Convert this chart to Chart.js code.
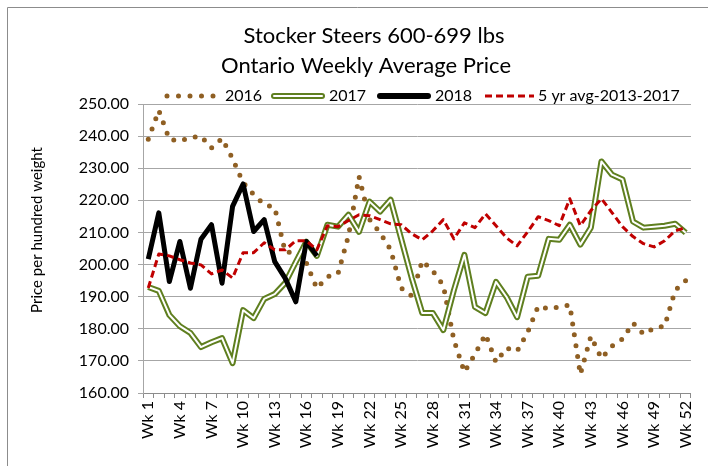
<!DOCTYPE html>
<html>
<head>
<meta charset="utf-8">
<script src="https://cdn.jsdelivr.net/npm/chart.js@4.4.1/dist/chart.umd.min.js"></script>
<style>
  html, body { margin: 0; padding: 0; background: #fff; }
</style>
</head>
<body>
<canvas id="chart" width="708" height="466"></canvas>
<script>
const WEEKS = [
  "Wk 1", "Wk 2", "Wk 3", "Wk 4", "Wk 5", "Wk 6", "Wk 7", "Wk 8", "Wk 9", "Wk 10",
  "Wk 11", "Wk 12", "Wk 13", "Wk 14", "Wk 15", "Wk 16", "Wk 17", "Wk 18", "Wk 19", "Wk 20",
  "Wk 21", "Wk 22", "Wk 23", "Wk 24", "Wk 25", "Wk 26", "Wk 27", "Wk 28", "Wk 29", "Wk 30",
  "Wk 31", "Wk 32", "Wk 33", "Wk 34", "Wk 35", "Wk 36", "Wk 37", "Wk 38", "Wk 39", "Wk 40",
  "Wk 41", "Wk 42", "Wk 43", "Wk 44", "Wk 45", "Wk 46", "Wk 47", "Wk 48", "Wk 49", "Wk 50",
  "Wk 51", "Wk 52"
];

// only every third week gets a label on the axis
const SHOWN_WEEKS = [
  "Wk 1", "Wk 4", "Wk 7", "Wk 10", "Wk 13", "Wk 16", "Wk 19", "Wk 22", "Wk 25",
  "Wk 28", "Wk 31", "Wk 34", "Wk 37", "Wk 40", "Wk 43", "Wk 46", "Wk 49", "Wk 52"
];

const PRICE_2016 = [
  239.0, 248.0, 239.0, 238.5, 239.5, 240.0, 236.3, 239.3, 233.0, 225.5,
  221.8, 218.7, 217.7, 203.9, 203.7, 200.5, 192.6, 196.2, 197.1, 209.0,
  227.4, 214.0, 209.9, 204.6, 192.7, 190.2, 201.2, 198.0, 193.5, 176.5,
  166.5, 172.1, 178.3, 169.6, 174.0, 173.0, 178.9, 187.0, 186.2, 186.8,
  187.4, 165.8, 177.7, 170.8, 174.6, 176.8, 181.8, 178.3, 180.2, 180.8,
  192.0, 195.0
];

const PRICE_2017 = [
  193.0, 191.8, 184.3, 180.8, 178.7, 174.3, 175.8, 177.1, 169.3, 185.8,
  183.3, 189.3, 190.8, 194.3, 200.8, 207.1, 202.7, 212.4, 211.8, 215.5,
  210.2, 219.6, 216.5, 220.2, 208.0, 195.8, 184.9, 184.9, 179.6, 192.0,
  203.0, 186.8, 184.9, 194.6, 189.9, 183.6, 196.2, 196.5, 208.0, 207.7,
  212.4, 206.2, 211.5, 232.1, 228.0, 226.5, 213.4, 211.5, 211.8, 212.1,
  212.7, 209.9
];

const PRICE_2018 = [
  201.7, 216.1, 194.7, 207.2, 192.6, 207.9, 212.4, 194.2, 218.1, 225.1,
  210.3, 214.0, 200.9, 195.7, 188.4, 207.2, 202.7
];

const AVG_2013_2017 = [
  192.7, 203.3, 202.7, 201.5, 200.5, 199.9, 197.1, 198.3, 195.8, 203.7,
  203.7, 206.8, 204.6, 204.6, 207.4, 207.4, 204.6, 212.1, 211.8, 213.7,
  215.5, 215.2, 214.0, 212.7, 212.4, 209.6, 207.7, 210.5, 214.0, 208.0,
  213.0, 211.5, 215.8, 212.1, 208.3, 205.8, 210.2, 214.9, 213.7, 212.1,
  220.5, 212.1, 216.8, 220.5, 216.2, 211.8, 208.7, 206.5, 205.5, 207.4,
  210.5, 211.5
];

const TITLE_LINES = ["Stocker Steers 600-699 lbs", "Ontario Weekly Average Price"];
const Y_TITLE = "Price per hundred weight";

const FONT = "Lato, 'Open Sans', sans-serif";
const BROWN = "#8f5f23";
const OLIVE = "#5f7f1f";
const DARK_RED = "#c00000";
const GRID = "#a6a6a6";

// Title, y title, legend and the outer frame are drawn by hand so they can
// sit where the original Excel layout put them.
const decorations = {
  id: "decorations",
  afterDraw(chart) {
    const ctx = chart.ctx;
    ctx.save();

    ctx.strokeStyle = "#8c8c8c";
    ctx.lineWidth = 1;
    ctx.beginPath();
    ctx.moveTo(7.5, 466);
    ctx.lineTo(7.5, 7.5);
    ctx.lineTo(708, 7.5);
    ctx.stroke();

    ctx.fillStyle = "#000";
    ctx.textAlign = "center";
    ctx.textBaseline = "middle";
    ctx.font = "22px " + FONT;
    ctx.fillText(TITLE_LINES[0], 374, 36);
    ctx.fillText(TITLE_LINES[1], 366, 66);

    ctx.save();
    ctx.translate(37, 230);
    ctx.rotate(-Math.PI / 2);
    ctx.font = "15px " + FONT;
    ctx.fillText(Y_TITLE, 0, 0);
    ctx.restore();

    drawLegend(ctx);
    ctx.restore();
  }
};

function strokeSample(ctx, x1, x2, y, color, width, dash, cap) {
  ctx.beginPath();
  ctx.strokeStyle = color;
  ctx.lineWidth = width;
  ctx.setLineDash(dash);
  ctx.lineCap = cap;
  ctx.moveTo(x1, y);
  ctx.lineTo(x2, y);
  ctx.stroke();
}

function drawLegend(ctx) {
  const y = 96;
  strokeSample(ctx, 167, 213.5, y, BROWN, 5, [0, 11.5], "round");
  strokeSample(ctx, 274, 322, y, OLIVE, 6, [], "round");
  strokeSample(ctx, 274, 322, y, "#fff", 2, [], "round");
  strokeSample(ctx, 380, 428, y, "#000", 6, [], "round");
  strokeSample(ctx, 485, 534, y, DARK_RED, 3, [7, 4], "butt");
  ctx.setLineDash([]);

  ctx.fillStyle = "#000";
  ctx.font = "16px " + FONT;
  ctx.textAlign = "left";
  ctx.textBaseline = "middle";
  ctx.fillText("2016", 225, y);
  ctx.fillText("2017", 329, y);
  ctx.fillText("2018", 435, y);
  ctx.fillText("5 yr avg-2013-2017", 538, y);
}

function lineSet(label, data, color, width, dash, order, cap) {
  return {
    label: label,
    data: data,
    borderColor: color,
    backgroundColor: color,
    borderWidth: width,
    borderDash: dash,
    borderCapStyle: cap || "butt",
    borderJoinStyle: "round",
    pointRadius: 0,
    pointHoverRadius: 0,
    tension: 0,
    fill: false,
    order: order,
  };
}

new Chart(document.getElementById("chart"), {
  type: "line",
  data: {
    labels: WEEKS,
    datasets: [
      lineSet("2016", PRICE_2016, BROWN, 5, [0, 11], 4, "round"),
      lineSet("2017", PRICE_2017, OLIVE, 6, [], 3),
      // white core on top of the olive line gives the double-line look
      lineSet("2017 core", PRICE_2017, "#fff", 2, [], 2),
      lineSet("2018", PRICE_2018, "#000", 5, [], 1),
      lineSet("5 yr avg-2013-2017", AVG_2013_2017, DARK_RED, 3, [7, 4], 0),
    ],
  },
  options: {
    responsive: false,
    animation: false,
    devicePixelRatio: 1,
    layout: { padding: { top: 104, right: 9, left: 0, bottom: 0 } },
    plugins: {
      legend: { display: false },
      title: { display: false },
      tooltip: { enabled: false },
    },
    scales: {
      x: {
        type: "category",
        offset: true,
        grid: {
          offset: true,
          drawOnChartArea: false,
          drawTicks: true,
          tickLength: 5,
          color: "#8c8c8c",
        },
        border: { color: "#8c8c8c" },
        ticks: {
          autoSkip: false,
          minRotation: 90,
          maxRotation: 90,
          padding: 3,
          color: "#000",
          font: { family: FONT, size: 16 },
          callback: function (value) {
            const label = this.getLabelForValue(value);
            return SHOWN_WEEKS.indexOf(label) >= 0 ? label : "";
          },
        },
        afterFit: function (scale) { scale.height = 73; },
      },
      y: {
        min: 160,
        max: 250,
        grid: { color: GRID, tickLength: 5 },
        border: { color: GRID },
        ticks: {
          stepSize: 10,
          padding: 9,
          color: "#000",
          font: { family: FONT, size: 16 },
          callback: function (value) { return value.toFixed(2); },
        },
        afterFit: function (scale) { scale.width = 143; },
      },
    },
  },
  plugins: [decorations],
});
</script>
</body>
</html>
